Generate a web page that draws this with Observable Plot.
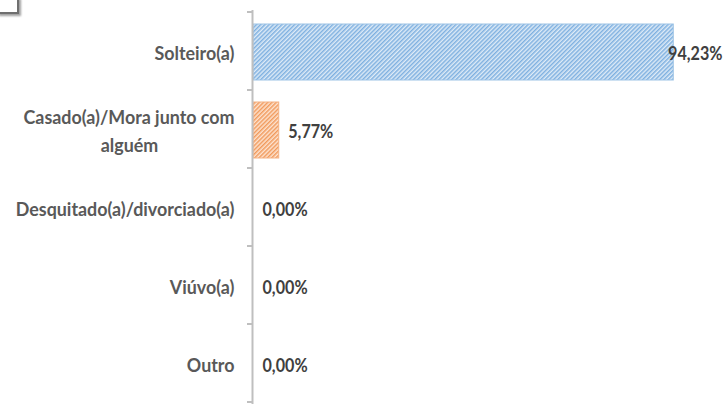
<!DOCTYPE html>
<html>
<head>
<meta charset="utf-8">
<script src="https://cdn.jsdelivr.net/npm/d3@7"></script>
<script src="https://cdn.jsdelivr.net/npm/@observablehq/plot@0.6"></script>
<style>
  html, body { margin: 0; padding: 0; background: #fff; }
  #wrap { position: relative; width: 728px; height: 404px; overflow: hidden; }
  #corner { position: absolute; left: -3px; top: -3px; width: 18px; height: 13px;
            border: 2px solid #6f6f6f; background: #fff; box-shadow: 2px 2px 2px #a0a0a0; }
</style>
</head>
<body>
<div id="wrap"><div id="corner"></div></div>
<script>
const categories = ["Solteiro(a)", "Casado(a)/Mora junto com alguém", "Desquitado(a)/divorciado(a)", "Viúvo(a)", "Outro"];
const values = [94.23, 5.77, 0, 0, 0];
const valueLabels = ["94,23%", "5,77%", "0,00%", "0,00%", "0,00%"];
const labelLines = [["Solteiro(a)"], ["Casado(a)/Mora junto com", "alguém"], ["Desquitado(a)/divorciado(a)"], ["Viúvo(a)"], ["Outro"]];

const data = categories.map((c, i) => ({category: c, value: values[i], label: valueLabels[i], lines: labelLines[i], i}));
const single = data.filter(d => d.lines.length === 1);
const multi = data.filter(d => d.lines.length > 1);

const font = "Lato, sans-serif";
const catColor = "#595959";
const valColor = "#404040";

function boundaryTicks(index, scales, values, dimensions) {
  const g = d3.create("svg:g").attr("stroke", "#bfbfbf").attr("stroke-width", 2);
  const bw = scales.y.bandwidth ? scales.y.bandwidth() : (dimensions.height - dimensions.marginTop - dimensions.marginBottom) / categories.length;
  const ys = categories.map(c => scales.y(c));
  ys.push(scales.y(categories[categories.length - 1]) + bw);
  const x0 = scales.x(0) - 1;
  for (const y of ys) {
    g.append("line").attr("x1", x0 - 5).attr("x2", x0).attr("y1", y).attr("y2", y);
  }
  return g.node();
}

const catStyle = {fill: catColor, fontSize: 19, fontWeight: "bold", fontFamily: font};
const valStyle = {fill: valColor, fontSize: 19, fontWeight: "bold", fontFamily: font};

const chart = Plot.plot({
  width: 728,
  height: 404,
  marginLeft: 253,
  marginRight: 29,
  marginTop: 10,
  marginBottom: 0,
  style: {background: "transparent", overflow: "visible"},
  x: {domain: [0, 100], axis: null},
  y: {domain: categories, padding: 0, axis: null},
  marks: [
    Plot.barX(data, {
      y: "category", x: "value", insetTop: 12, insetBottom: 10,
      fill: d => d.i === 0 ? "url(#hatchBlue)" : "url(#hatchOrange)",
      stroke: d => d.i === 0 ? "#9dc3e6" : "#f4b183", strokeWidth: 1
    }),
    Plot.ruleX([0], {stroke: "#bfbfbf", strokeWidth: 2, dx: -1}),
    boundaryTicks,
    Plot.text(single, {
      y: "category", text: d => d.lines[0], frameAnchor: "left", dx: -19, dy: 2,
      textAnchor: "end", ...catStyle
    }),
    Plot.text(multi, {
      y: "category", text: d => d.lines[0], frameAnchor: "left", dx: -19, dy: -12,
      textAnchor: "end", ...catStyle
    }),
    Plot.text(multi, {
      y: "category", text: d => d.lines[1], frameAnchor: "left", dx: -124, dy: 16,
      textAnchor: "middle", ...catStyle
    }),
    Plot.text(data.filter(d => d.value < 90), {
      y: "category", x: "value", text: "label", dx: 9, dy: 2,
      textAnchor: "start", ...valStyle
    }),
    Plot.text(data.filter(d => d.value >= 90), {
      y: "category", text: "label", frameAnchor: "right", dx: 23, dy: 2,
      textAnchor: "end", ...valStyle
    })
  ]
});

const svg = d3.select(chart);
const defs = svg.insert("defs", ":first-child");
function hatch(id, bg, fg) {
  const p = defs.append("pattern").attr("id", id).attr("patternUnits", "userSpaceOnUse")
    .attr("width", 3).attr("height", 3).attr("patternTransform", "rotate(45)");
  p.append("rect").attr("width", 3).attr("height", 3).attr("fill", bg);
  p.append("line").attr("x1", 0.75).attr("x2", 0.75).attr("y1", 0).attr("y2", 3)
    .attr("stroke", fg).attr("stroke-width", 1.5);
}
hatch("hatchBlue", "#deebf7", "#7eb0e0");
hatch("hatchOrange", "#fde4d2", "#f19a5c");

const wrap = document.getElementById("wrap");
wrap.insertBefore(chart, wrap.firstChild);

// narrow the glyphs horizontally (condensed look of the original)
function condense(color, s) {
  svg.selectAll(`g[fill="${color}"] text`).each(function() {
    const len = this.getComputedTextLength();
    if (len > 0) {
      this.setAttribute("textLength", (len * s).toFixed(2));
      this.setAttribute("lengthAdjust", "spacingAndGlyphs");
    }
  });
}
condense(catColor, 0.94);
condense(valColor, 0.85);
</script>
</body>
</html>
